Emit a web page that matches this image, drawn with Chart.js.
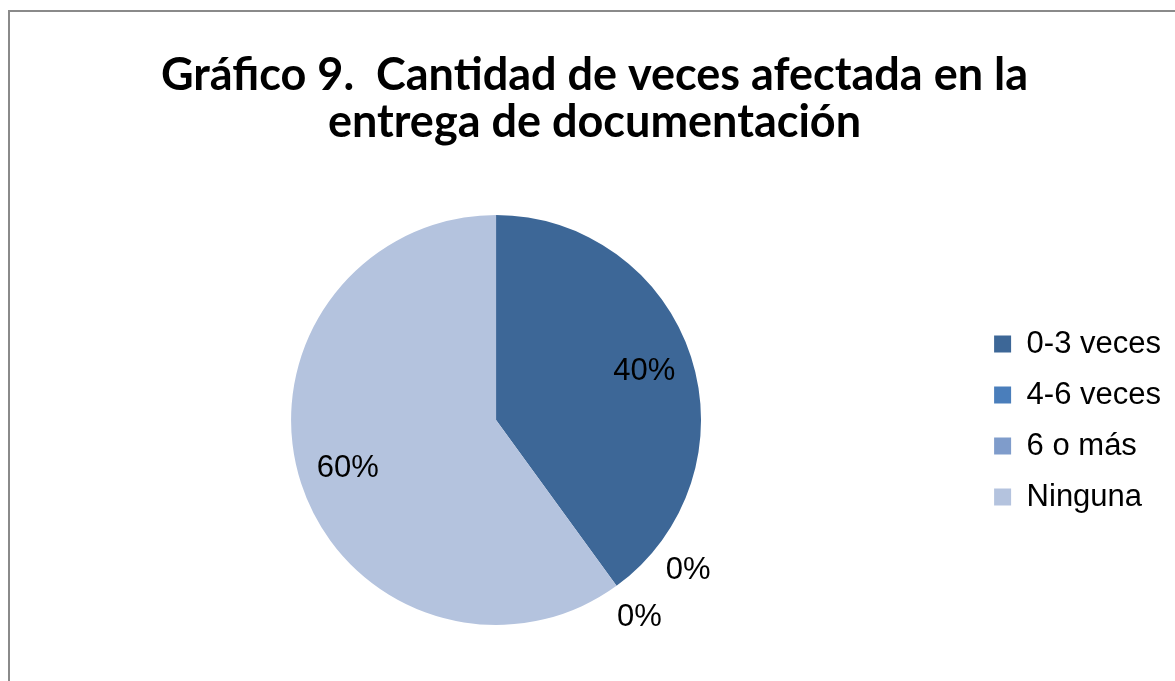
<!DOCTYPE html>
<html>
<head>
<meta charset="utf-8">
<script src="https://cdn.jsdelivr.net/npm/chart.js@4.4.1/dist/chart.umd.min.js"></script>
<style>
  html, body { margin: 0; padding: 0; background: #fff; overflow: hidden; }
  #wrap { position: relative; width: 1175px; height: 681px; overflow: hidden; }
  #marco { position: absolute; left: 8px; top: 10px; width: 1300px; height: 800px;
           border: 2px solid #8a8a8a; box-sizing: border-box; pointer-events: none; }
</style>
</head>
<body>
<div id="wrap">
  <canvas id="grafica" width="1194" height="681"></canvas>
  <div id="marco"></div>
</div>
<script>
// datos del grafico
const categorias = ['0-3 veces', '4-6 veces', '6 o más', 'Ninguna'];
const valores = [40, 0, 0, 60];
const colores = ['#3d6797', '#4a7ebb', '#7f9ccb', '#b4c3de'];
const titulo = ['Gráfico 9.  Cantidad de veces afectada en la', 'entrega de documentación'];

// etiquetas de porcentaje sobre / fuera de cada porcion
const etiquetas = {
    id: 'etiquetas',
    afterDatasetsDraw(chart) {
        const ctx = chart.ctx;
        const meta = chart.getDatasetMeta(0);
        const total = valores.reduce((a, b) => a + b, 0);
        ctx.save();
        ctx.font = '31px "Liberation Sans", Arial, sans-serif';
        ctx.fillStyle = '#000';
        ctx.textAlign = 'center';
        ctx.textBaseline = 'middle';
        let ceros = valores.filter(v => v === 0).length;
        let n = 0;
        meta.data.forEach((arc, i) => {
            const v = valores[i];
            const r = arc.outerRadius;
            let ang = (arc.startAngle + arc.endAngle) / 2;
            let dist = r * 0.76;
            if (v === 0) {
                // las porciones vacias van fuera, una al lado de otra
                dist = r * 1.19;
                ang -= (ceros - 1 - n) * 16 * Math.PI / 180;
                n++;
            }
            const x = arc.x + Math.cos(ang) * dist;
            const y = arc.y + Math.sin(ang) * dist;
            ctx.fillText(Math.round(v / total * 100) + '%', x, y);
        });
        ctx.restore();
    }
};

new Chart(document.getElementById('grafica').getContext('2d'), {
    type: 'pie',
    data: {
        labels: categorias,
        datasets: [{
            data: valores,
            backgroundColor: colores,
            borderWidth: 0
        }]
    },
    options: {
        responsive: false,
        animation: false,
        layout: { padding: { left: 18, right: 23, bottom: 56, top: 0 } },
        plugins: {
            title: {
                display: true,
                text: titulo,
                color: '#000',
                font: { family: 'Lato, "Open Sans", sans-serif', size: 45, weight: 'bold', lineHeight: 1.045 },
                padding: { top: 51.5, bottom: 69.5 }
            },
            legend: {
                position: 'right',
                // titulo vacio solo para bajar la leyenda al centro
                title: { display: true, text: '', font: { size: 10, lineHeight: 1 }, padding: { top: 206, bottom: 0 } },
                labels: {
                    color: '#000',
                    boxWidth: 17,
                    boxHeight: 17,
                    padding: 20,
                    font: { family: '"Liberation Sans", Arial, sans-serif', size: 31 }
                }
            },
            tooltip: { enabled: false }
        }
    },
    plugins: [etiquetas]
});
</script>
</body>
</html>
